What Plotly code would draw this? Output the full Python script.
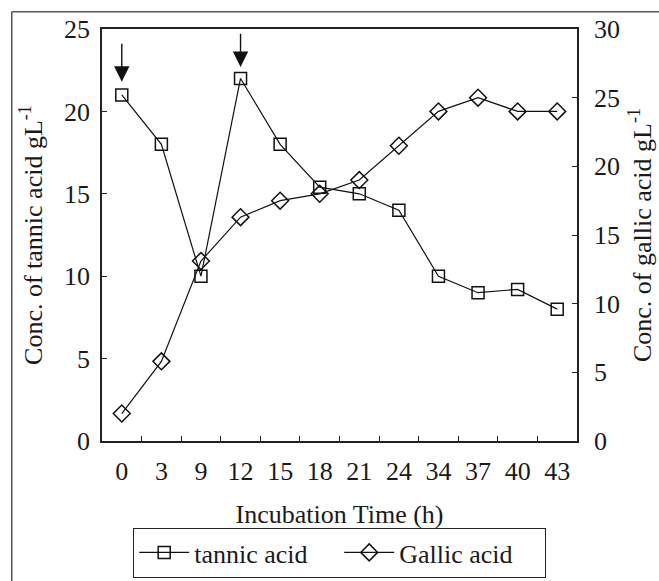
import plotly.graph_objects as go

time_labels = ["0", "3", "9", "12", "15", "18", "21", "24", "34", "37", "40", "43"]
tannic_acid = [21.0, 18.0, 10.0, 22.0, 18.0, 15.4, 15.0, 14.0, 10.0, 9.0, 9.2, 8.0]
gallic_acid = [2.0, 5.8, 13.1, 16.3, 17.5, 18.0, 19.0, 21.5, 24.0, 25.0, 24.0, 24.0]

# arrows marking substrate additions (category, tip value, tail value on left axis)
arrow_times = ["0", "12"]
arrow_tips = [21.8, 22.7]
arrow_tails = [24.2, 24.8]

FONT = "Liberation Serif"
TXT = "#1a1a1a"
AX = "#222222"

fig = go.Figure()
fig.add_trace(go.Scatter(
    x=time_labels, y=tannic_acid, name="tannic acid", mode="lines+markers",
    line=dict(color="#111111", width=1.2),
    marker=dict(symbol="square-open", size=12, color="#111111", line=dict(width=1.5, color="#111111")),
))
fig.add_trace(go.Scatter(
    x=time_labels, y=gallic_acid, name="Gallic acid", mode="lines+markers", yaxis="y2",
    line=dict(color="#111111", width=1.2),
    marker=dict(symbol="diamond-open", size=13, color="#111111", line=dict(width=1.5, color="#111111")),
))

for t, tip, tail in zip(arrow_times, arrow_tips, arrow_tails):
    idx = time_labels.index(t)
    fig.add_annotation(
        x=idx, y=tip, ax=idx, ay=tail, xref="x", yref="y", axref="x", ayref="y",
        showarrow=True, arrowhead=2, arrowsize=2.2, arrowwidth=1.4, arrowcolor="#111111", text="",
    )

# outer frame lines
fig.add_shape(type="line", xref="paper", yref="paper", x0=-0.19, x1=-0.19, y0=1.042, y1=-0.36,
              line=dict(color="#555555", width=1.5))
fig.add_shape(type="line", xref="paper", yref="paper", x0=-0.19, x1=1.2, y0=1.042, y1=1.042,
              line=dict(color="#555555", width=1.5))

fig.update_layout(
    width=659, height=581,
    margin=dict(l=102, r=82, t=29, b=140, autoexpand=False),
    paper_bgcolor="white", plot_bgcolor="white",
    font=dict(family=FONT, size=26, color=TXT),
    showlegend=True,
    legend=dict(
        orientation="h", x=0.5, xanchor="center", y=-0.332, yanchor="bottom",
        bordercolor="#222222", borderwidth=1.2, font=dict(size=26, family=FONT, color=TXT),
        itemwidth=50, entrywidth=140, tracegroupgap=0,
    ),
    xaxis=dict(
        type="category", range=[-0.5, 11.5], tickson="boundaries",
        ticks="inside", ticklen=5, tickcolor=AX, tickwidth=1.2,
        showline=True, linecolor=AX, linewidth=1.5, mirror=True,
        showgrid=False, zeroline=False, ticklabelstandoff=6,
        tickfont=dict(size=26, family=FONT, color=TXT),
        title=dict(text="Incubation Time (h)", standoff=20, font=dict(size=26, family=FONT, color=TXT)),
    ),
    yaxis=dict(
        range=[0, 25], dtick=5, ticks="inside", ticklen=5, tickcolor=AX, tickwidth=1.2,
        showline=True, linecolor=AX, linewidth=1.5, showgrid=False, zeroline=False,
        ticklabelstandoff=5, tickfont=dict(size=26, family=FONT, color=TXT),
        title=dict(text="Conc. of tannic acid gL<sup>-1</sup>", standoff=14,
                   font=dict(size=26, family=FONT, color=TXT)),
    ),
    yaxis2=dict(
        range=[0, 30], dtick=5, ticks="inside", ticklen=5, tickcolor=AX, tickwidth=1.2,
        overlaying="y", side="right",
        showline=True, linecolor=AX, linewidth=1.5, showgrid=False, zeroline=False,
        ticklabelstandoff=10, tickfont=dict(size=26, family=FONT, color=TXT),
        title=dict(text="Conc. of gallic acid gL<sup>-1</sup>", standoff=14,
                   font=dict(size=26, family=FONT, color=TXT)),
    ),
)

fig.write_html("out.html", config={"displayModeBar": False},
               post_script="document.body.style.margin='0';")
